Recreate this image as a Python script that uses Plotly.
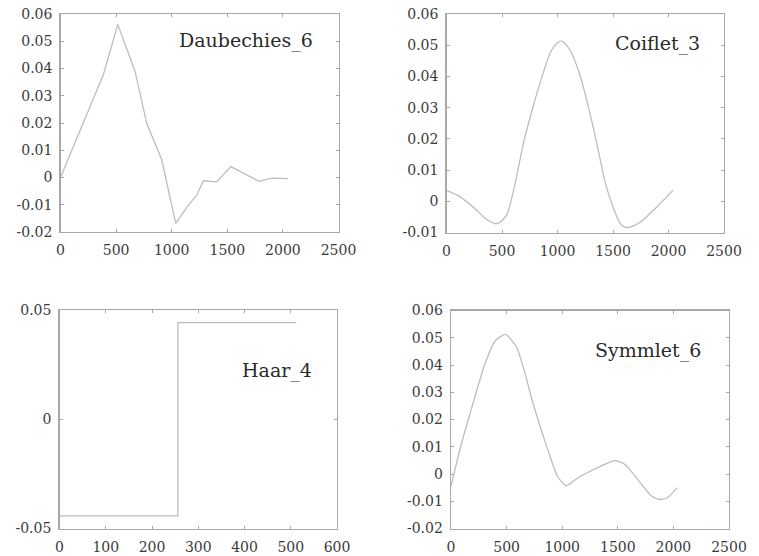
import plotly.graph_objects as go

# ---------------- data ----------------
daub_x = [0, 132, 251, 386, 515, 670, 776, 910, 1036, 1149, 1224, 1284, 1404, 1532, 1658, 1784, 1897, 2047]
daub_y = [0.0, 0.0126, 0.0246, 0.0378, 0.0562, 0.039, 0.0198, 0.0066, -0.0168, -0.0102, -0.0066,
          -0.0012, -0.0016, 0.004, 0.0012, -0.0014, -0.0002, -0.0004]

coif_x = [0, 120, 245, 350, 410, 440, 480, 545, 620, 694, 770, 844, 940, 1000, 1030, 1060, 1120, 1203,
          1280, 1353, 1430, 1502, 1560, 1600, 1622, 1660, 1742, 1891, 2040]
coif_y = [0.0035, 0.0015, -0.002, -0.0055, -0.0068, -0.0072, -0.0068, -0.0042, 0.006, 0.0187, 0.029,
          0.0381, 0.048, 0.0508, 0.0513, 0.0508, 0.048, 0.0403, 0.030, 0.0187, 0.006, -0.002, -0.0068,
          -0.0082, -0.0084, -0.0082, -0.0068, -0.0019, 0.0035]

haar_x = [0, 256, 512]
haar_y = [-0.0442, 0.0442, 0.0442]

sym_x = [0, 80, 170, 305, 400, 490, 590, 665, 739, 874, 960, 1038, 1120, 1203, 1353, 1472, 1562,
         1712, 1800, 1861, 1936, 2035]
sym_y = [-0.0045, 0.009, 0.022, 0.0404, 0.049, 0.0512, 0.0465, 0.037, 0.0257, 0.0085, -0.001,
         -0.0043, -0.002, 0.0, 0.003, 0.0049, 0.0036, -0.0037, -0.008, -0.0092, -0.009, -0.005]

titles = ["Daubechies_6", "Coiflet_3", "Haar_4", "Symmlet_6"]

xt_long = [0, 500, 1000, 1500, 2000, 2500]
xt_haar = [0, 100, 200, 300, 400, 500, 600]
yt_a = [-0.02, -0.01, 0, 0.01, 0.02, 0.03, 0.04, 0.05, 0.06]
yt_b = [-0.01, 0, 0.01, 0.02, 0.03, 0.04, 0.05, 0.06]
yt_haar = [-0.05, 0, 0.05]


def lab(v):
    if v == 0:
        return "0"
    return "%g" % v


# ---------------- figure ----------------
W, H = 759, 556
FONT = "DejaVu Serif"
LINE = "#bdbdbd"
FRAME = "#a8a8a8"
TXT = "#3a3a3a"

fig = go.Figure()

panels = [
    (daub_x, daub_y, "linear", [0, 2500], [-0.02, 0.06], xt_long, yt_a, 60.5, 338.5, 14, 232, (246, 41)),
    (coif_x, coif_y, "spline", [0, 2500], [-0.01, 0.06], xt_long, yt_b, 446.5, 724, 14, 232.5, (657, 44)),
    (haar_x, haar_y, "hv", [0, 600], [-0.05, 0.05], xt_haar, yt_haar, 59.5, 337, 310, 528.5, (277, 370)),
    (sym_x, sym_y, "spline", [0, 2500], [-0.02, 0.06], xt_long, yt_a, 451, 729, 310.5, 528.5, (648, 350)),
]

annotations = []
for i, (xs, ys, shape, xr, yr, xtv, ytv, l, r, t, b, tc) in enumerate(panels):
    n = i + 1
    xa = "x" if n == 1 else "x%d" % n
    ya = "y" if n == 1 else "y%d" % n
    fig.add_trace(go.Scatter(
        x=xs, y=ys, mode="lines", xaxis=xa, yaxis=ya,
        line=dict(color=LINE, width=1.3, shape=shape, smoothing=0.6),
        showlegend=False, hoverinfo="skip",
    ))
    common = dict(
        showline=True, linecolor=FRAME, linewidth=1.3, mirror="ticks",
        ticks="inside", ticklen=3, tickcolor=FRAME, tickwidth=1,
        showgrid=False, zeroline=False, automargin=False,
        tickfont=dict(family=FONT, size=14, color=TXT),
    )
    fig.layout["xaxis" if n == 1 else "xaxis%d" % n] = dict(
        domain=[l / W, r / W], range=xr, anchor=ya,
        tickmode="array", tickvals=xtv, ticktext=[lab(v) for v in xtv],
        ticklabelstandoff=5, **common)
    fig.layout["yaxis" if n == 1 else "yaxis%d" % n] = dict(
        domain=[1 - b / H, 1 - t / H], range=yr, anchor=xa,
        tickmode="array", tickvals=ytv, ticktext=[lab(v) for v in ytv],
        ticklabelstandoff=4, **common)
    annotations.append(dict(
        text=titles[i], x=tc[0] / W, y=1 - tc[1] / H, xref="paper", yref="paper",
        xanchor="center", yanchor="middle", showarrow=False,
        font=dict(family=FONT, size=19, color="#2a2a2a"),
    ))

fig.update_layout(
    width=W, height=H,
    margin=dict(l=0, r=0, t=0, b=0, autoexpand=False),
    paper_bgcolor="white", plot_bgcolor="white",
    annotations=annotations,
)

fig.write_html(
    "out.html",
    config={"displayModeBar": False, "staticPlot": True},
    post_script="document.body.style.margin='0';document.body.style.overflow='hidden';",
)
